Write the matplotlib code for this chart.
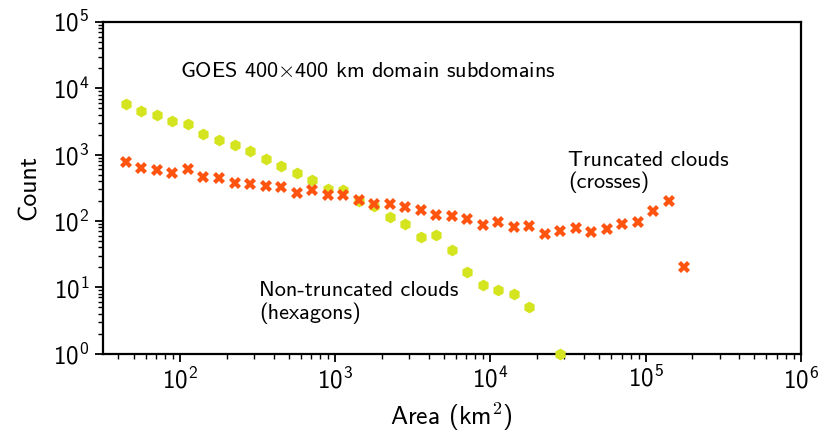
import numpy as np
import matplotlib
matplotlib.use('Agg')
import matplotlib.pyplot as plt

# log10 bin centres, 0.1 decade apart
LOG_AREA_START = 1.65
LOG_AREA_STEP = 0.1

# counts of truncated clouds (crosses)
truncated_counts = [
    780, 634, 586, 522, 600, 455, 449, 373, 360, 340,
    325, 261, 296, 248, 246, 209, 182, 178, 160, 148,
    121, 119, 108, 88, 95, 81, 83, 64, 70, 78,
    68, 76, 89, 97, 143, 200, 20,
]

# counts of non-truncated clouds (hexagons); nan = empty bin
nontruncated_counts = [
    5740, 4590, 4000, 3250, 2860, 2045, 1644, 1381, 1121, 859,
    673, 534, 418, 303, 290, 198, 168, 116, 89, 58,
    62, 37, 17, 10.9, 9.1, 8.0, 5.0, np.nan, 1.0,
]

x_label = r'Area ($\mathsf{km}^\mathsf{2}$)'
y_label = 'Count'
title_text = r'GOES 400$\times$400 km domain subdomains'
truncated_text = 'Truncated clouds\n(crosses)'
nontruncated_text = 'Non-truncated clouds\n(hexagons)'

GREEN = '#d4e41e'
ORANGE = '#ff5310'

plt.rcParams['font.family'] = ['cmss10', 'DejaVu Sans']
plt.rcParams['mathtext.fontset'] = 'cm'
plt.rcParams['axes.unicode_minus'] = False
plt.rcParams['axes.linewidth'] = 1.6
plt.rcParams['xtick.major.width'] = 1.3
plt.rcParams['ytick.major.width'] = 1.3
plt.rcParams['xtick.minor.width'] = 1.0
plt.rcParams['ytick.minor.width'] = 1.0
plt.rcParams['xtick.major.size'] = 6
plt.rcParams['ytick.major.size'] = 6
plt.rcParams['xtick.minor.size'] = 3.5
plt.rcParams['ytick.minor.size'] = 3.5


def bin_areas(n):
    '''
    Returns the bin centre areas for n logarithmic bins.
    '''
    return 10 ** (LOG_AREA_START + LOG_AREA_STEP * np.arange(n))


fig = plt.figure(figsize=(8.2, 4.37), dpi=100)
ax = fig.add_axes([0.1252, 0.191, 0.8513, 0.7587])

ax.plot(bin_areas(len(nontruncated_counts)), nontruncated_counts,
        linestyle='none', marker='h', markersize=8.5, color=GREEN,
        markeredgewidth=0, clip_on=False, zorder=3)
ax.plot(bin_areas(len(truncated_counts)), truncated_counts,
        linestyle='none', marker='X', markersize=9, color=ORANGE,
        markeredgewidth=0, clip_on=False, zorder=4)

ax.set_xscale('log')
ax.set_yscale('log')
ax.set_xlim(10 ** 1.5, 1e6)
ax.set_ylim(1, 1e5)

ax.tick_params(labelsize=18)
ax.set_xlabel(x_label, fontsize=18.5, labelpad=5)
ax.set_ylabel(y_label, fontsize=18.5, labelpad=9)

ax.text(0.111, 0.852, title_text, transform=ax.transAxes, fontsize=16,
        va='center', ha='left')
ax.text(0.667, 0.548, truncated_text, transform=ax.transAxes, fontsize=16,
        va='center', ha='left', linespacing=1.1)
ax.text(0.224, 0.154, nontruncated_text, transform=ax.transAxes, fontsize=16,
        va='center', ha='left', linespacing=1.1)

plt.savefig('out.png', dpi=100)
plt.close(fig)
